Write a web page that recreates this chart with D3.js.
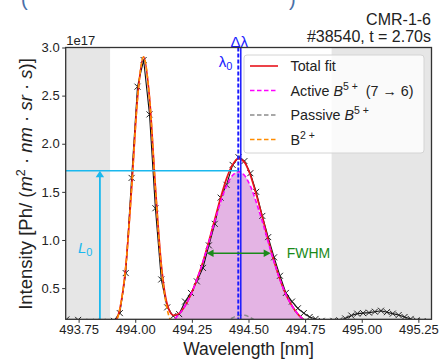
<!DOCTYPE html>
<html><head><meta charset="utf-8">
<script src="https://cdn.jsdelivr.net/npm/d3@7"></script>
<style>
body{margin:0;background:#fff;}
svg{display:block;font-family:"Liberation Sans",Arial,sans-serif;}
</style></head><body>
<svg id="chart" width="443" height="360"></svg>
<script>
// ---------- data ----------
const wavelength = [493.696,493.722,493.748,493.775,493.801,493.827,493.853,493.879,493.906,493.932,
  493.958,493.984,494.010,494.037,494.063,494.089,494.115,494.141,494.168,494.194,
  494.220,494.246,494.272,494.299,494.325,494.351,494.377,494.403,494.430,494.456,
  494.482,494.508,494.534,494.561,494.587,494.613,494.639,494.665,494.692,494.718,
  494.744,494.770,494.796,494.823,494.849,494.875,494.901,494.927,494.954,494.980,
  495.006,495.032,495.058,495.085,495.111,495.137,495.163,495.189,495.216,495.242,
  495.268,495.294];
const measured = [0.175,0.15,0.17,0.14,0.15,0.13,0.15,0.14,0.16,0.24,
  0.656,1.645,2.593,2.87,2.305,1.33,0.59,0.30,0.21,0.23,
  0.36,0.45,0.57,0.71,0.944,1.168,1.44,1.573,1.78,1.86,
  1.82,1.694,1.50,1.25,1.03,0.82,0.628,0.45,0.36,0.29,
  0.24,0.20,0.18,0.16,0.15,0.16,0.165,0.185,0.215,0.235,
  0.24,0.245,0.255,0.265,0.25,0.235,0.22,0.20,0.18,0.165,
  0.155,0.15];

const fitWavelength = [493.906,493.932,493.958,493.984,494.010,494.037,494.063,494.089,494.115,494.141,
  494.168,494.194,494.220,494.246,494.272,494.299,494.325,494.351,494.377,494.403,
  494.430,494.456,494.482,494.508,494.534,494.561,494.587,494.613,494.639,494.665,
  494.692,494.718,494.744,494.770,494.796,494.823,494.849,494.875];
const totalFit = [0.126,0.281,0.719,1.538,2.473,2.904,2.479,1.552,0.748,0.334,
  0.217,0.238,0.317,0.435,0.588,0.774,0.986,1.213,1.438,1.638,
  1.783,1.846,1.809,1.676,1.474,1.238,0.999,0.779,0.590,0.435,
  0.317,0.230,0.171,0.133,0.109,0.095,0.088,0.084];
const activeB5 = [0.080,0.080,0.080,0.081,0.082,0.084,0.088,0.095,0.109,0.133,
  0.171,0.230,0.317,0.435,0.587,0.771,0.978,1.193,1.395,1.562,
  1.672,1.710,1.672,1.562,1.395,1.193,0.978,0.771,0.587,0.435,
  0.317,0.230,0.171,0.133,0.109,0.095,0.088,0.084];
const passiveB5 = [0.080,0.080,0.080,0.080,0.080,0.080,0.080,0.080,0.080,0.080,
  0.080,0.080,0.080,0.080,0.081,0.082,0.088,0.100,0.122,0.156,
  0.192,0.216,0.217,0.194,0.159,0.125,0.101,0.088,0.083,0.081,
  0.080,0.080,0.080,0.080,0.080,0.080,0.080,0.080];
const b2 = [0.126,0.281,0.719,1.537,2.471,2.900,2.471,1.537,0.719,0.281,
  0.126,0.087,0.081,0.080,0.080,0.080,0.080,0.080,0.080,0.080,
  0.080,0.080,0.080,0.080,0.080,0.080,0.080,0.080,0.080,0.080,
  0.080,0.080,0.080,0.080,0.080,0.080,0.080,0.080];

const xTicks = [493.75,494.00,494.25,494.50,494.75,495.00,495.25];
const yTicks = [0.5,1.0,1.5,2.0,2.5,3.0];
const excludedRanges = [[493.693,493.889],[494.867,495.308]];

const lambda0 = 494.455, lambdaShifted = 494.466;
const L0 = 1.72, L0arrowX = 493.844;
const fwhmRange = [494.315, 494.598], fwhmLevel = 0.863;

const legendItems = [
  {key:"total", color:"#e8141c", dash:null},
  {key:"active", color:"#f0f", dash:"4.5,2.5"},
  {key:"passive", color:"#8c8c8c", dash:"4.5,2.5"},
  {key:"b2", color:"#ff8c00", dash:"4.5,2.5"}
];

// ---------- layout ----------
const L = 65.7, R = 431.5, T = 47.5, B = 319.3;
const x = d3.scaleLinear().domain([493.693, 495.308]).range([L, R]);
const y = d3.scaleLinear().domain([0.176, 3.0]).range([B, T]);
const svg = d3.select("#chart");

// cut-off caption text at top (only its lower part is visible in the reference)
svg.append("text").attr("x",21).attr("y",6).attr("font-size",20).attr("fill","#4a70a8").text("(");
svg.append("text").attr("x",289).attr("y",6).attr("font-size",20).attr("fill","#4a70a8").text(")");

svg.append("defs").append("clipPath").attr("id","clip")
  .append("rect").attr("x",L).attr("y",T).attr("width",R-L).attr("height",B-T);

const plot = svg.append("g").attr("clip-path","url(#clip)");

// gray spans
plot.selectAll("rect.span").data(excludedRanges).enter().append("rect")
  .attr("x",d=>x(d[0])).attr("width",d=>x(d[1])-x(d[0]))
  .attr("y",T).attr("height",B-T).attr("fill","#e6e6e6");

const fitPts = (arr)=>fitWavelength.map((w,i)=>[w,arr[i]]);

// fill under active
plot.append("path").datum(fitPts(activeB5))
  .attr("d", d3.area().x(d=>x(d[0])).y0(y(0)).y1(d=>y(d[1])).curve(d3.curveMonotoneX))
  .attr("fill","#e4b4e4");

// measured data
const dataPts = wavelength.map((w,i)=>[w,measured[i]]);
plot.append("path").datum(dataPts)
  .attr("d", d3.line().x(d=>x(d[0])).y(d=>y(d[1])))
  .attr("fill","none").attr("stroke","#111").attr("stroke-width",1.1);
plot.selectAll("path.mk").data(dataPts).enter().append("path")
  .attr("transform",d=>`translate(${x(d[0])},${y(d[1])})`)
  .attr("d","M-3,-3L3,3M-3,3L3,-3")
  .attr("stroke","#222").attr("stroke-width",1).attr("fill","none");

const line = d3.line().x(d=>x(d[0])).y(d=>y(d[1])).curve(d3.curveMonotoneX);
plot.append("path").datum(fitPts(totalFit)).attr("d",line)
  .attr("fill","none").attr("stroke","#e8141c").attr("stroke-width",1.7);
plot.append("path").datum(fitPts(activeB5)).attr("d",line)
  .attr("fill","none").attr("stroke","#f0f").attr("stroke-width",1.6).attr("stroke-dasharray","4.5,2.5");
plot.append("path").datum(fitPts(passiveB5)).attr("d",line)
  .attr("fill","none").attr("stroke","#8c8c8c").attr("stroke-width",1.5).attr("stroke-dasharray","4.5,2.5");
plot.append("path").datum(fitPts(b2)).attr("d",line)
  .attr("fill","none").attr("stroke","#ff8c00").attr("stroke-width",1.6).attr("stroke-dasharray","4.5,2.5");

// lambda lines
plot.append("line").attr("x1",x(lambdaShifted)).attr("x2",x(lambdaShifted)).attr("y1",T).attr("y2",B)
  .attr("stroke","#1a1aff").attr("stroke-width",1.5);
plot.append("line").attr("x1",x(lambda0)).attr("x2",x(lambda0)).attr("y1",T).attr("y2",B)
  .attr("stroke","#1a1aff").attr("stroke-width",2).attr("stroke-dasharray","4,2");

// L0 lines
const cyan = "#1ab8ee";
plot.append("line").attr("x1",L).attr("x2",x(lambda0)).attr("y1",y(L0)).attr("y2",y(L0))
  .attr("stroke",cyan).attr("stroke-width",1.6);
plot.append("line").attr("x1",x(L0arrowX)).attr("x2",x(L0arrowX)).attr("y1",B).attr("y2",y(L0)+5)
  .attr("stroke",cyan).attr("stroke-width",1.8);
{
  const ax = x(L0arrowX), ay = y(L0);
  plot.append("path").attr("d",`M${ax},${ay}L${ax-4.2},${ay+6.5}L${ax+4.2},${ay+6.5}Z`).attr("fill",cyan);
}
svg.append("text").attr("x",78).attr("y",253).attr("fill",cyan).attr("font-size",15)
  .html('<tspan font-style="italic">L</tspan><tspan font-size="11" dy="3">0</tspan>');

// FWHM arrow
const green = "#1a8a1a";
{
  const x1 = x(fwhmRange[0]), x2 = x(fwhmRange[1]), yy = y(fwhmLevel);
  plot.append("line").attr("x1",x1+5).attr("x2",x2-5).attr("y1",yy).attr("y2",yy)
    .attr("stroke",green).attr("stroke-width",1.6);
  plot.append("path").attr("d",`M${x1},${yy}L${x1+7},${yy-3.8}L${x1+7},${yy+3.8}Z`).attr("fill",green);
  plot.append("path").attr("d",`M${x2},${yy}L${x2-7},${yy-3.8}L${x2-7},${yy+3.8}Z`).attr("fill",green);
  svg.append("text").attr("x",x2+16).attr("y",yy+5).attr("fill",green).attr("font-size",14).text("FWHM");
}

// lambda labels
svg.append("text").attr("x",x(lambda0)-6).attr("y",67).attr("text-anchor","end").attr("fill","#1a1aff").attr("font-size",15)
  .html('λ<tspan font-size="11" dy="3">0</tspan>');
svg.append("text").attr("x",x(lambda0)+1).attr("y",46.5).attr("text-anchor","middle").attr("fill","#1a1aff").attr("font-size",15)
  .text("Δλ");

// frame
svg.append("rect").attr("x",L).attr("y",T).attr("width",R-L).attr("height",B-T)
  .attr("fill","none").attr("stroke","#333").attr("stroke-width",1.3);

// axes
const xAxis = svg.append("g").attr("transform",`translate(0,${B})`)
  .call(d3.axisBottom(x).tickValues(xTicks).tickFormat(d3.format(".2f")).tickSizeInner(3.5).tickSizeOuter(0).tickPadding(2));
const yAxis = svg.append("g").attr("transform",`translate(${L},0)`)
  .call(d3.axisLeft(y).tickValues(yTicks).tickFormat(d3.format(".1f")).tickSizeInner(3.5).tickSizeOuter(0).tickPadding(2.5));
[xAxis,yAxis].forEach(g=>{
  g.select(".domain").remove();
  g.selectAll("text").attr("font-size",13).attr("fill","#222").attr("font-family","Liberation Sans, Arial, sans-serif");
  g.selectAll("line").attr("stroke","#333");
});

svg.append("text").attr("x",L+0.5).attr("y",45).attr("font-size",13).attr("fill","#222").text("1e17");

// axis labels
svg.append("text").attr("x",(L+R)/2).attr("y",355).attr("text-anchor","middle").attr("font-size",17.5).attr("fill","#222")
  .text("Wavelength [nm]");
svg.append("text").attr("transform","translate(32,184) rotate(-90)").attr("text-anchor","middle").attr("font-size",18.5).attr("fill","#222")
  .html('Intensity [Ph/ (<tspan font-style="italic">m</tspan><tspan font-size="12.5" dy="-7">2</tspan><tspan dy="7"> · </tspan><tspan font-style="italic">nm</tspan> · <tspan font-style="italic">sr</tspan> · <tspan font-style="italic">s</tspan>)]');

// title
svg.append("text").attr("x",431).attr("y",25).attr("text-anchor","end").attr("font-size",16).attr("fill","#222").text("CMR-1-6");
svg.append("text").attr("x",431).attr("y",41.5).attr("text-anchor","end").attr("font-size",16).attr("fill","#222").text("#38540, t = 2.70s");

// legend
const lg = svg.append("g");
lg.append("rect").attr("x",244).attr("y",55).attr("width",180).attr("height",98).attr("rx",3)
  .attr("fill","#fff").attr("fill-opacity",0.8).attr("stroke","#d4d4d4").attr("stroke-width",1);
const labels = {
  total: 'Total fit',
  active: 'Active <tspan font-style="italic">B</tspan><tspan font-size="10.5" dy="-6">5 +</tspan><tspan dy="6" xml:space="preserve">  (7 → 6)</tspan>',
  passive: 'Passive <tspan font-style="italic">B</tspan><tspan font-size="10.5" dy="-6">5 +</tspan>',
  b2: 'B<tspan font-size="10.5" dy="-6">2 +</tspan>'
};
legendItems.forEach((it,i)=>{
  const yy = 66 + i*24.5;
  lg.append("line").attr("x1",250).attr("x2",278).attr("y1",yy).attr("y2",yy)
    .attr("stroke",it.color).attr("stroke-width",1.6).attr("stroke-dasharray",it.dash);
  lg.append("text").attr("x",290.5).attr("y",yy+5).attr("font-size",14.3).attr("fill","#222")
    .attr("style","white-space:pre").html(labels[it.key]);
});
</script></body></html>
